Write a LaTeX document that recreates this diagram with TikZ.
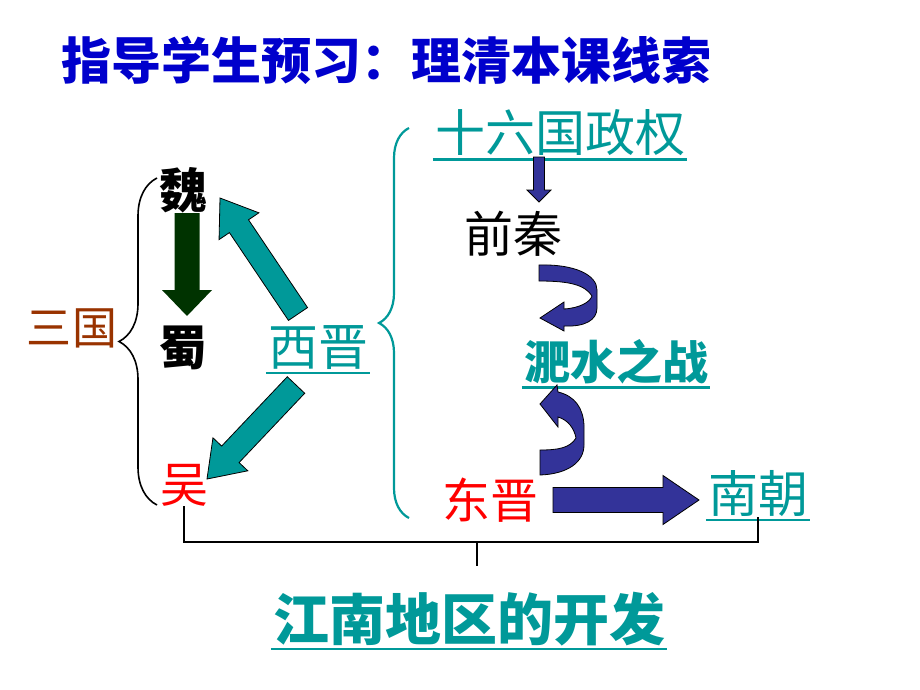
\documentclass[tikz,border=0pt]{standalone}
\usepackage{amsmath}
\usepackage{fontspec}
\newfontfamily\cjk{Noto Sans CJK SC}
\usepackage{tikz}
\usetikzlibrary{calc,decorations.pathreplacing}

\definecolor{titleblue}{RGB}{0,0,204}
\definecolor{tealc}{RGB}{0,153,153}
\definecolor{brownc}{RGB}{153,51,0}
\definecolor{arrowblue}{RGB}{51,51,153}
\definecolor{darkgreen}{RGB}{0,51,0}

% block arrow: [style] from, to, half shaft, half head, head length
\newcommand{\blockarrow}[6][]{%
  \coordinate (ba-h) at ($(#3)!#6!(#2)$);
  \filldraw[#1] ($(#2)!#4!90:(#3)$) -- ($(ba-h)!#4!-90:(#2)$) -- ($(ba-h)!#5!-90:(#2)$) -- (#3)
    -- ($(ba-h)!#5!90:(#2)$) -- ($(ba-h)!#4!90:(#2)$) -- ($(#2)!#4!-90:(#3)$) -- cycle;}

\begin{document}
\begin{tikzpicture}[x=1pt,y=-1pt,line join=miter,
    txt/.style={inner sep=0pt,font=\cjk\fontsize{#1}{#1}\selectfont},
    btxt/.style={inner sep=0pt,font=\cjk\bfseries\fontsize{#1}{#1}\selectfont},
    uline/.style={draw=tealc,line width=2.4pt},
    tealarrow/.style={fill=tealc,draw=black,line width=0.8pt},
    bluearrow/.style={fill=arrowblue,draw=black,line width=0.8pt},
    greenarrow/.style={fill=darkgreen,draw=none}]
  \fill[white] (0,0) rectangle (920,690);
  \useasboundingbox (0,0) rectangle (920,690);

  \node[btxt=50,text=titleblue] (title) at (386,60) {指导学生预习：理清本课线索};
  \node[txt=45,text=brownc] (sanguo) at (72,328) {三国};
  \node[btxt=48] (wei) at (183,190) {魏};
  \node[btxt=48] (shu) at (183,348) {蜀};
  \node[txt=48,text=red] (wu) at (184,485) {吴};
  \node[txt=50,text=tealc] (xijin) at (318,348) {西晋};
  \node[txt=50,text=tealc] (shiliu) at (560,133) {十六国政权};
  \node[txt=49,text=black] (qianqin) at (513,234) {前秦};
  \node[btxt=46,text=tealc] (feishui) at (616,362) {淝水之战};
  \node[txt=48,text=red] (dongjin) at (490,500) {东晋};
  \node[txt=50,text=tealc] (nanchao) at (758,494) {南朝};
  \node[btxt=56,text=tealc] (jiangnan) at (469,619) {江南地区的开发};

  \foreach \n in {xijin,shiliu,feishui,nanchao,jiangnan}
    \draw[uline] ([xshift=-2pt,yshift=-3pt]\n.south west) -- ([xshift=2pt,yshift=-3pt]\n.south east);

  % braces
  \draw[decorate,decoration={brace,amplitude=38pt},line width=1.6pt] (157,505) -- (157,178);
  \draw[decorate,decoration={brace,amplitude=30pt},tealc,line width=2.2pt] (409,518) -- (409,128);

  % block arrows
  \coordinate (wei-in) at (187,213);
  \coordinate (shu-out) at (187,316);
  \coordinate (xj-up) at (298,314);
  \coordinate (wei-tip) at (220,198);
  \coordinate (xj-down) at (296,385);
  \coordinate (wu-tip) at (207,479);
  \coordinate (sl-out) at (539,157);
  \coordinate (qq-tip) at (539,202);
  \coordinate (dj-out) at (553,500);
  \coordinate (nc-tip) at (699,500);
  \blockarrow[greenarrow]{wei-in}{shu-out}{12.5pt}{25pt}{26pt}
  \blockarrow[tealarrow]{xj-up}{wei-tip}{11.5pt}{24pt}{34pt}
  \blockarrow[tealarrow]{xj-down}{wu-tip}{12pt}{24pt}{34pt}
  \blockarrow[bluearrow]{sl-out}{qq-tip}{5.5pt}{12pt}{12pt}
  \blockarrow[bluearrow]{dj-out}{nc-tip}{12.5pt}{24.5pt}{36pt}

  % curved arrows
  \filldraw[bluearrow] (539,265) .. controls (575,264) and (597,275) .. (597,290) -- (597,308)
    .. controls (597,320) and (585,327) .. (564,326) -- (564,331) -- (540,318) -- (564,302) -- (564,309)
    .. controls (580,308) and (590,302) .. (592,296) .. controls (585,285) and (570,281) .. (539,281) -- cycle;
  \filldraw[bluearrow] (540,475) .. controls (568,474) and (584,462) .. (584,445) -- (584,425)
    .. controls (583,408) and (575,396) .. (558,392) -- (557,385) -- (540,404) -- (558,427) -- (558,417)
    .. controls (568,420) and (574,428) .. (576,438) .. controls (570,448) and (558,450) .. (540,450) -- cycle;

  % bracket under the periods
  \coordinate (brk) at (477,542);
  \draw[line width=1.6pt] (wu.south) |- (brk) -| (nanchao.south);
  \draw[line width=1.6pt] (brk) -- ++(0,24);
\end{tikzpicture}
\end{document}
